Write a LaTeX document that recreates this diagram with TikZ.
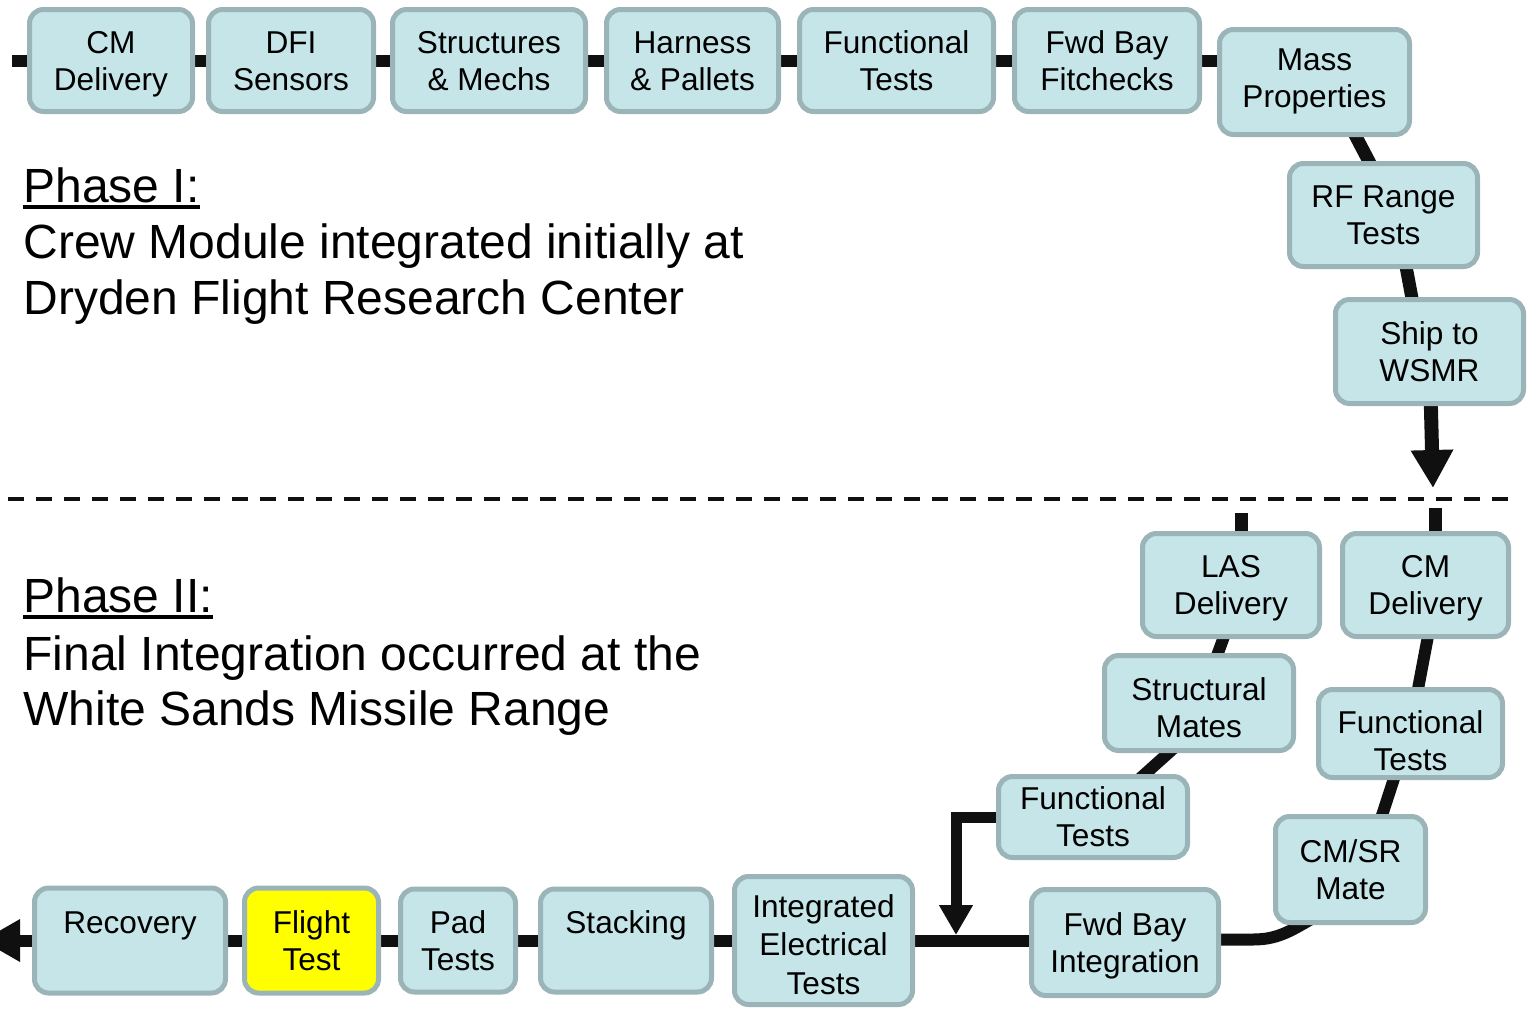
\documentclass[tikz,border=0pt]{standalone}
\usepackage{fontspec}
\setmainfont{Liberation Sans}
\usetikzlibrary{arrows.meta,calc}
\definecolor{boxfill}{RGB}{198,229,232}
\definecolor{boxedge}{RGB}{154,180,184}
\definecolor{ink}{RGB}{16,16,16}
\definecolor{flightyellow}{RGB}{255,255,0}
\pgfdeclarelayer{bg}
\pgfsetlayers{bg,main}
% heading with a thick underline
\newcommand\phaseul[1]{\setbox0\hbox{#1}\rlap{\rule[-3.5pt]{\wd0}{2pt}}\box0}
\tikzset{
  stage/.style={draw=boxedge, fill=boxfill, line width=2.5pt, rounded corners=7pt,
    align=center, inner sep=0pt, text=black, font=\fontsize{15.8}{18.5}\selectfont,
    text height=33.4pt, text depth=3.6pt},
  three lines/.style={font=\fontsize{15.8}{19.3}\selectfont, text height=57.5pt},
  hot/.style={stage, fill=flightyellow},
  sz/.style 2 args={minimum width=#1pt, minimum height=#2pt},
  flow/.style={draw=ink, line width=6pt},
  thin flow/.style={draw=ink, line width=5.5pt, miter limit=10},
  bigtip/.style={-{Triangle[length=19pt,width=20pt]}},
  smalltip/.style={-{Triangle[length=15pt,width=16pt]}},
  phase/.style={inner sep=0pt, anchor=base west, font=\fontsize{24}{28}\selectfont},
}
\begin{document}
\begin{tikzpicture}[x=0.5pt,y=-0.5pt]
\useasboundingbox (0,0) rectangle (1528,1008);
\clip (0,0) rectangle (1528,1008);

% Phase I chain (Dryden)
\node[stage, sz={81.5}{51}] (cmA)  at (111,60.5)    {CM\\Delivery};
\node[stage, sz={82.5}{51}] (dfi)  at (291,60.5)    {DFI\\Sensors};
\node[stage, sz={96.5}{51}] (sm)   at (489,60.5)    {Structures\\\& Mechs};
\node[stage, sz={86}{51}]   (hp)   at (692.5,60.5)  {Harness\\\& Pallets};
\node[stage, sz={97}{51}]   (ftA)  at (896.5,60.5)  {Functional\\Tests};
\node[stage, sz={92.5}{51}] (fbf)  at (1107,60.5)   {Fwd Bay\\Fitchecks};
\node[stage, sz={95}{52.5}, text height=29.4pt] (mp) at (1314.5,82) {Mass\\Properties};
\node[stage, sz={94}{51.5}] (rf)   at (1383.5,215)  {RF Range\\Tests};
\node[stage, sz={94}{52}]   (ship) at (1429.5,351.5){Ship to\\WSMR};

% Phase II chain (White Sands)
\node[stage, sz={88.5}{51.5}] (las)  at (1231,585)     {LAS\\Delivery};
\node[stage, sz={83}{51.5}]   (cmB)  at (1425.5,585)   {CM\\Delivery};
\node[stage, sz={94.5}{47.5}, text height=38.4pt] (stm) at (1199,703) {Structural\\Mates};
\node[stage, sz={92}{44}, text height=40.4pt] (ftC) at (1410.5,733.5) {Functional\\Tests};
\node[stage, sz={94.5}{40.5}] (ftB)  at (1093,817)     {Functional\\Tests};
\node[stage, sz={75}{53}]     (cmsr) at (1350.5,869.5) {CM/SR\\Mate};
\node[stage, sz={93.5}{53}]   (fbi)  at (1125,942.5)   {Fwd Bay\\Integration};
\node[stage, three lines, sz={89}{64}] (iet) at (823.5,940.5) {Integrated\\Electrical\\Tests};
\node[stage, sz={85.5}{51.5}] (stk)  at (626,940.5)    {Stacking\\\mbox{}};
\node[stage, sz={57.5}{51.5}] (pad)  at (458,940.5)    {Pad\\Tests};
\node[hot,   sz={67}{52.5}]   (flt)  at (311.5,940.5)  {Flight\\Test};
\node[stage, sz={95.5}{52.5}] (rec)  at (130,940.5)    {Recovery\\\mbox{}};

% headings
\node[phase] (p1)  at (23,202) {\phaseul{Phase I:}};
\node[phase] (p1a) at (23,258) {Crew Module integrated initially at};
\node[phase] (p1b) at (23,314) {Dryden Flight Research Center};
\node[phase] (p2)  at (23,612) {\phaseul{Phase II:}};
\node[phase] (p2a) at (23,670) {Final Integration occurred at the};
\node[phase] (p2b) at (23,725) {White Sands Missile Range};

% site boundary
\coordinate (sepL) at (8,499);
\coordinate (sepR) at (1512,499);
\draw[ink, line width=2.2pt, dash pattern=on 8pt off 6pt] (sepL) -- (sepR);

\begin{pgfonlayer}{bg}
  % Phase I flow
  \coordinate (startA) at (12,60.5);
  \draw[flow] (startA) -- (cmA.west);
  \draw[flow] (cmA.east) -- (dfi.west);
  \draw[flow] (dfi.east) -- (sm.west);
  \draw[flow] (sm.east) -- (hp.west);
  \draw[flow] (hp.east) -- (ftA.west);
  \draw[flow] (ftA.east) -- (fbf.west);
  \draw[flow] (fbf.east) -- (fbf.east -| mp.west);
  \draw[flow, line width=6.5pt] ($(mp.center)+(27.5,28)$) -- ($(rf.center)+(0.5,-25)$);
  \draw[flow, line width=6.5pt] ($(rf.center)+(18.5,30)$) -- ($(ship.center)+(-12.5,-26.5)$);
  \coordinate (shipTip) at (1433,488);
  \draw[flow, line width=7pt, bigtip] ($(ship.center)+(0.5,20)$) -- (shipTip);

  % Phase II flow
  \coordinate (lasIn) at (1241,513);
  \coordinate (cmIn) at (1435,508);
  \draw[flow, line width=6.5pt] (lasIn) -- ($(las.center)+(10,-30)$);
  \draw[flow, line width=6.5pt] (cmIn) -- ($(cmB.center)+(9.5,-30)$);
  \draw[flow] ($(las.center)+(-1,35)$) -- ($(stm.center)+(11,-28)$);
  \draw[flow] ($(stm.center)+(-5,27)$) -- ($(ftB.center)+(23,-17)$);
  \draw[flow] ($(cmB.center)+(6.5,30)$) -- ($(ftC.center)+(3.5,-23.5)$);
  \draw[flow] ($(ftC.center)+(-10.5,26.5)$) -- ($(cmsr.center)+(23.5,-29.5)$);
  \draw[flow] ($(cmsr.center)+(-40,50)$) to[out=-150,in=0] ($(fbi.east)+(32,-3)$) -- ($(fbi.east)+(0,-3)$);
  \coordinate (join) at (956,935);
  \draw[thin flow, smalltip] (ftB.west) -| (join);
  \draw[flow] (iet.east) -- (iet.east -| fbi.west);
  \draw[flow] (iet.west) -- (stk.east);
  \draw[flow] (stk.west) -- (pad.east);
  \draw[flow] (pad.west) -- (flt.east);
  \draw[flow] (flt.west) -- (rec.east);
  \coordinate (endTip) at (-18,940.5);
  \draw[flow, bigtip] (rec.west) -- (endTip);
\end{pgfonlayer}
\end{tikzpicture}
\end{document}
